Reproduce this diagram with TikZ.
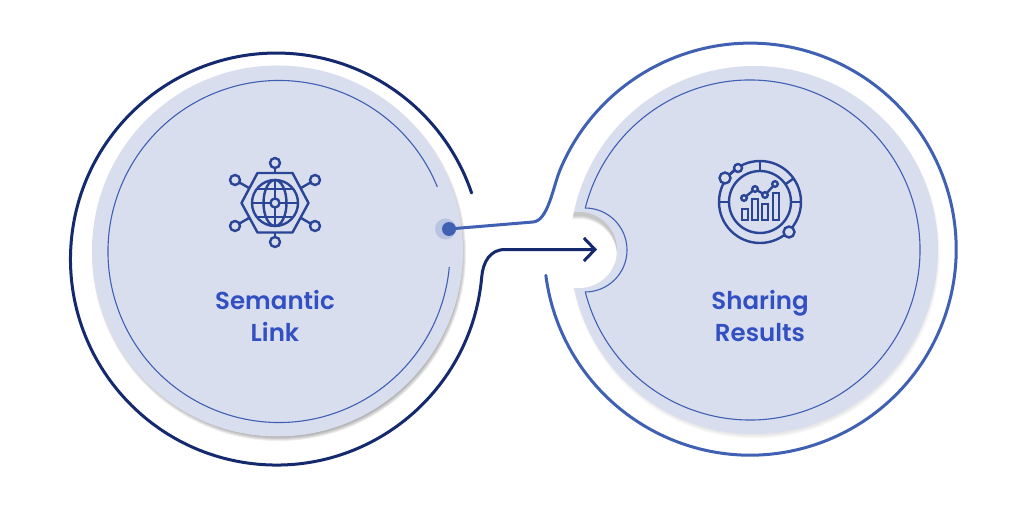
\documentclass[tikz,border=0pt]{standalone}
\usepackage{fontspec}
\setmainfont{Poppins}[BoldFont={Poppins SemiBold}]
\usetikzlibrary{arrows.meta}
\definecolor{discblue}{HTML}{D9DEEF}
\definecolor{haloblue}{HTML}{B9C3E2}
\definecolor{lineblue}{HTML}{4060B4}
\definecolor{navyline}{HTML}{14296E}
\definecolor{iconblue}{HTML}{2A4496}
\definecolor{textblue}{HTML}{3350C2}
\tikzset{
  thinline/.style={draw=lineblue,line width=1.1},
  iconline/.style={draw=iconblue,line width=2.4,fill=discblue},
  stemline/.style={draw=iconblue,line width=2.4},
  label/.style={font=\fontsize{24.5}{32}\selectfont\bfseries,text=textblue,align=center,inner sep=0},
}
\begin{document}
\begin{tikzpicture}[x=1pt,y=1pt]
\useasboundingbox (0,0) rectangle (1024,512);
\fill[white] (0,0) rectangle (1024,512);
\foreach \r in {0,1,2,3,4}
  \fill[black,opacity=0.07] (279,258) circle ({183+\r});
\foreach \r in {0,1,2,3}
  \fill[black,opacity=0.025] (755,258.5) circle ({182+\r});
\fill[discblue] (277.5,261) circle (185.5);
\fill[discblue] (754,262) circle (184);
\fill[white] (579,262) circle (38);
\begin{scope}
\clip (754,262) circle (184);
\clip (579,262) circle (38);
\foreach \r in {0,1,2,3}
  \fill[black,opacity=0.06,even odd rule] (579,{258-\r}) circle (38) (579,262) circle (60);
\end{scope}
\draw[thinline] (279,260.5) ++(22.2:171) arc[start angle=22.2,end angle=354.8,radius=171];
\draw[thinline] (585,304) arc[start angle=90,end angle=-90,radius=42];
\draw[thinline] (750,262) ++(165.7:170) arc[start angle=165.7,end angle=-165.7,radius=170];
\fill[haloblue] (445.5,283) circle (10.5);
\node[circle,fill=lineblue,minimum size=14,inner sep=0] (dot) at (449,283) {};
\coordinate (arrowend) at (597,262.5);
\draw[navyline,line width=3,line cap=round,{Straight Barb[length=11,width=23]}-] (arrowend) -- (505,262.5)
  .. controls (490,262.5) and (483,250) .. (481.7,235)
  arc[start angle=-5,end angle=-341.3,radius=206];
\draw[lineblue,line width=3,line cap=round] (dot.center) -- (533,290)
  .. controls (548,291) and (553,325) .. (560,342)
  arc[start angle=157.4,end angle=-172.7,radius=206];
\node[label] (semantic) at (275,196) {Semantic\\Link};
\node[label] (sharing) at (760,196) {Sharing\\Results};
% globe icon
\foreach \a in {90,-90}
  \draw[stemline] (275,309) ++(\a:29) -- ++(\a:9);
\foreach \a in {30,-30,150,-150}
  \draw[stemline] (275,309) ++(\a:30) -- ++(\a:14);
\draw[iconline] (275,349) circle (5);
\draw[iconline] (275,270) circle (5);
\draw[iconline] (235,332) circle (5);
\draw[iconline] (315,332) circle (5);
\draw[iconline] (235,286) circle (5);
\draw[iconline] (315,286) circle (5);
\draw[iconline,line join=round] (241.5,309) -- (257.5,339) -- (292.5,339) -- (308.5,309) -- (292.5,279.5) -- (257.5,279.5) -- cycle;
\draw[iconline] (275,309) circle (23);
\draw[stemline] (275,309) ellipse (11.5 and 23);
\draw[stemline] (252,309) -- (298,309);
\draw[stemline] (275,286) -- (275,332);
\draw[stemline] (256.5,323) -- (293.5,323);
\draw[stemline] (256.5,295) -- (293.5,295);
\draw[iconline] (275,309) circle (4.5);
% chart icon
\draw[stemline] (760,310) circle (41);
\draw[stemline] (760,310) circle (31);
\draw[stemline] (760,341) -- (760,351);
\draw[stemline] (729,310) -- (719,310);
\draw[stemline] (791,310) -- (801,310);
\draw[stemline] (760,310) ++(35:31) -- ++(35:10);
\draw[stemline] (725,334) -- (738,344);
\draw[iconline] (725,334) circle (5.5);
\draw[iconline] (738,344) circle (4);
\draw[iconline] (789,280) circle (5.5);
\draw[stemline] (744,314) -- (755,323) -- (765,317) -- (775,328);
\foreach \x/\y in {744/314,755/323,765/317,775/328}
  \draw[iconline] (\x,\y) circle (2.8);
\draw[iconline] (742,292) rectangle (748,303);
\draw[iconline] (752,292) rectangle (758,313);
\draw[iconline] (762,292) rectangle (768,308);
\draw[iconline] (773,292) rectangle (779,319);
\end{tikzpicture}
\end{document}
